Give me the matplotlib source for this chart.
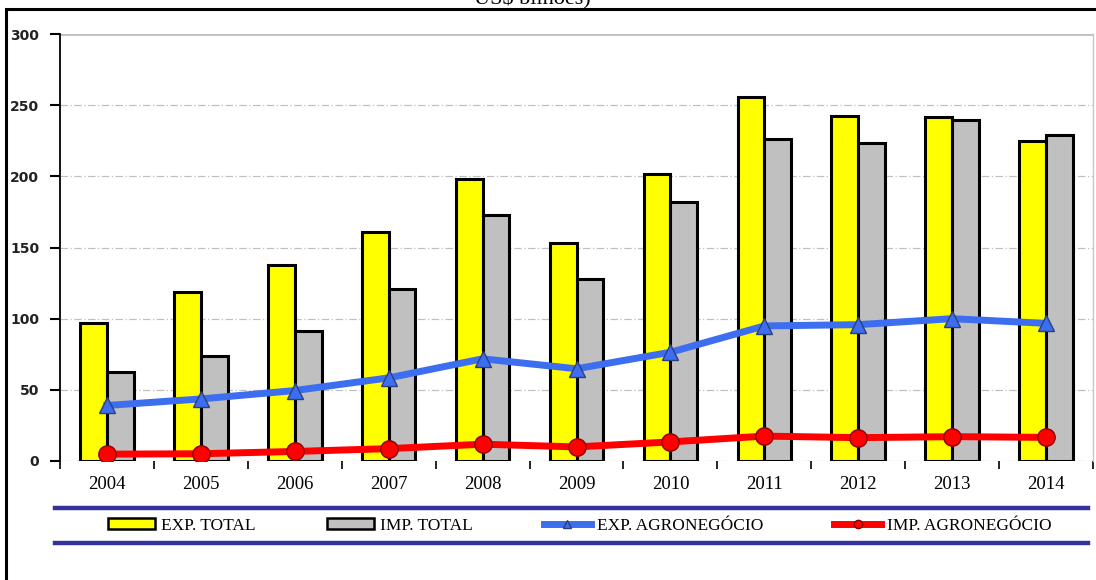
import matplotlib
import matplotlib.pyplot as plt
import numpy as np
from matplotlib.lines import Line2D
from matplotlib.patches import Patch, Rectangle

plt.switch_backend("Agg")

# Data (US$ bilhões)
years = ["2004", "2005", "2006", "2007", "2008", "2009", "2010", "2011", "2012", "2013", "2014"]
exp_total = [96.7, 118.5, 137.8, 160.6, 197.9, 153.0, 201.9, 256.0, 242.6, 242.0, 225.1]
imp_total = [62.8, 73.6, 91.4, 120.6, 173.0, 127.7, 181.8, 226.2, 223.2, 239.7, 229.1]
exp_agro = [39.0, 43.6, 49.5, 58.4, 71.8, 64.8, 76.4, 94.9, 95.8, 100.0, 96.7]
imp_agro = [4.8, 5.1, 6.7, 8.7, 11.8, 9.9, 13.4, 17.5, 16.4, 17.1, 16.6]
yticks = [0, 50, 100, 150, 200, 250, 300]

W, H = 1096, 580
fig = plt.figure(figsize=(W / 100, H / 100), dpi=100)
fig.patch.set_facecolor("white")

# axes placed in pixel coords
left, right, bottom, top = 60, 1093, 461, 34
ax = fig.add_axes([left / W, 1 - bottom / H, (right - left) / W, (bottom - top) / H])

x = np.arange(len(years))
bw = 0.285
ax.bar(x - bw / 2, exp_total, bw, color="#ffff00", edgecolor="black", linewidth=2.2, zorder=2)
ax.bar(x + bw / 2, imp_total, bw, color="#c0c0c0", edgecolor="black", linewidth=2.2, zorder=2)

ax.plot(x, exp_agro, color="#3d6ef0", linewidth=5, zorder=3,
        marker="^", markersize=11, markerfacecolor="#3d6ef0", markeredgecolor="#2a3f80",
        markeredgewidth=1)
ax.plot(x, imp_agro, color="#ff0000", linewidth=5, zorder=4,
        marker="o", markersize=12.5, markerfacecolor="#ff0000", markeredgecolor="#8a0000",
        markeredgewidth=1)

ax.set_xlim(-0.5, len(years) - 0.5)
ax.set_ylim(0, 300)
ax.set_yticks(yticks)
ax.set_yticklabels([str(v) for v in yticks], fontsize=10, fontweight="bold",
                   family="DejaVu Sans", color="#222222")
ax.set_xticks(x)
ax.set_xticklabels(years, fontsize=13.5, family="Liberation Serif")
ax.set_xticks(np.arange(len(years) + 1) - 0.5, minor=True)
ax.tick_params(axis="x", which="major", length=0, pad=11)
ax.tick_params(axis="x", which="minor", length=6, width=1.2, direction="out", color="black")
ax.tick_params(axis="y", length=7, width=1.5, direction="out", pad=8)

ax.grid(axis="y", color="#c0c0c0", linestyle=(0, (6, 2, 1, 2)), linewidth=0.9, zorder=0)
ax.set_axisbelow(True)
for side in ["top", "bottom"]:
    ax.spines[side].set_visible(False)
ax.spines["right"].set_color("#c8c8c8")
ax.spines["right"].set_linewidth(1.0)
ax.spines["left"].set_linewidth(1.3)
ax.axhline(300, color="#c0c0c0", linewidth=2, zorder=1)

# legend between navy rules
handles = [
    Patch(facecolor="#ffff00", edgecolor="black", linewidth=1.8),
    Patch(facecolor="#c0c0c0", edgecolor="black", linewidth=1.8),
    Line2D([], [], color="#3d6ef0", linewidth=5, marker="^", markersize=6,
           markerfacecolor="#3d6ef0", markeredgecolor="#2a3f80"),
    Line2D([], [], color="#ff0000", linewidth=5, marker="o", markersize=6,
           markerfacecolor="#ff0000", markeredgecolor="#8a0000"),
]
labels = ["EXP. TOTAL", "IMP. TOTAL", "EXP. AGRONEGÓCIO", "IMP. AGRONEGÓCIO"]
fig.legend(handles, labels, loc="center", bbox_to_anchor=(580 / W, 1 - 526 / H), ncol=4,
           frameon=False, prop={"family": "Liberation Serif", "size": 12.5},
           handlelength=2.7, handleheight=0.6, handletextpad=0.35, columnspacing=4.1)
for yy in (508, 543):
    fig.add_artist(Line2D([55 / W, 1088 / W], [1 - yy / H, 1 - yy / H],
                          color="#333399", linewidth=3.2))

# outer frame and title (cut at the top edge, as in the source)
fig.add_artist(Rectangle((6 / W, -0.05), 1.1, 1 - 9 / H + 0.05, transform=fig.transFigure,
                         fill=False, edgecolor="black", linewidth=2.2))
fig.text(532 / W, 1 - 4 / H, "US$ bilhões)", ha="center", va="baseline",
         fontsize=16, family="Liberation Serif")

fig.savefig("out.png", dpi=100, facecolor="white")
